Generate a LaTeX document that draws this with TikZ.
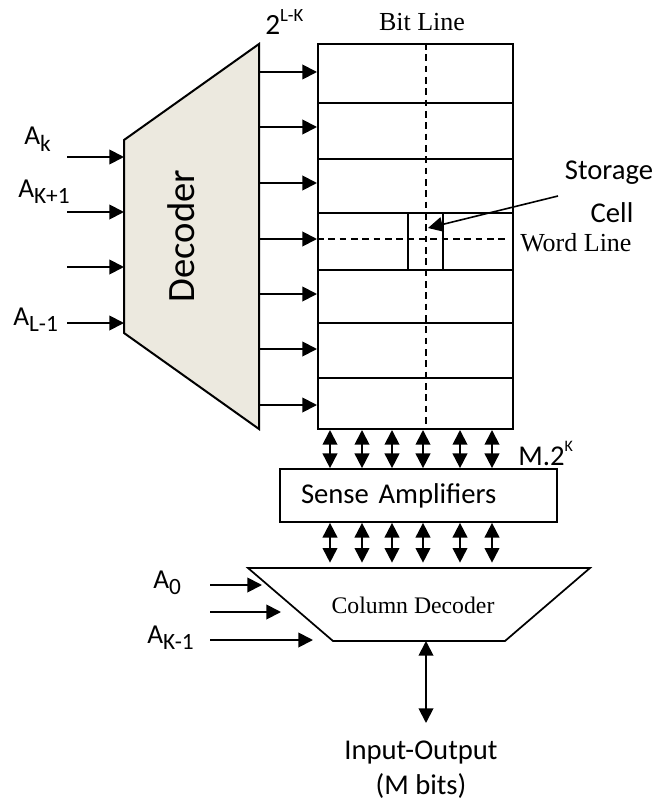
\documentclass[tikz,border=0pt]{standalone}
\usepackage{fontspec}
\setmainfont{Liberation Serif}
\newfontfamily\cfont{Carlito}
\usepackage{tikz}
\usetikzlibrary{arrows.meta, positioning, calc}
\definecolor{decfill}{RGB}{236,233,223}
\newcommand{\adr}[1]{A\raisebox{-5pt}{\fontsize{17.5}{17.5}\selectfont #1}}
\newcommand{\upidx}[3]{#1\raisebox{10pt}{\fontsize{#3}{#3}\selectfont #2}}
\tikzset{
    dec_shape/.style={draw, line width=1.5pt, fill=decfill, line join=miter},
    mem_block/.style={rectangle, draw, line width=1.5pt, inner sep=0pt, minimum width=146.25pt, minimum height=288.75pt},
    sense_block/.style={rectangle, draw, line width=1.3pt, inner xsep=15.75pt, inner ysep=0pt, text width=176.25pt, align=left, minimum height=39.75pt, font=\cfont\fontsize{21.5}{26}\selectfont},
    grid_line/.style={line width=1.2pt},
    dash_line/.style={line width=1.3pt, dash pattern=on 5pt off 3.5pt},
    arrow/.style={->, >={Triangle[length=11pt, width=11pt]}, line width=1.4pt},
    bi_arrow/.style={<->, >={Triangle[length=11pt, width=11pt]}, line width=1.4pt},
    lbl/.style={font=\cfont\fontsize{21.5}{26}\selectfont, inner sep=0pt},
    addr_lbl/.style={font=\cfont\fontsize{20.5}{24}\selectfont, inner sep=0pt, anchor=base west},
    serif_lbl/.style={font=\fontsize{19.5}{22}\selectfont, inner sep=0pt}
}
\begin{document}
\begin{tikzpicture}[x=0.75pt, y=-0.75pt]
    \useasboundingbox (0,0) rectangle (660,806);

    % row decoder
    \coordinate (dTL) at (124,140);
    \coordinate (dTR) at (259,44);
    \coordinate (dBR) at (259,429);
    \coordinate (dBL) at (124,333);
    \draw[dec_shape] (dTL) -- (dTR) -- (dBR) -- (dBL) -- cycle;
    \node[lbl, rotate=90, font=\cfont\fontsize{29}{32}\selectfont] (dec) at (181,236) {Decoder};

    % memory array
    \node[mem_block] (mem) at (415.5,236.5) {};
    \foreach \y in {103,159,213,270,323,378}
        \draw[grid_line] (mem.west |- 0,\y) -- (mem.east |- 0,\y);
    \node[draw, grid_line, inner sep=0pt, minimum width=26.25pt, minimum height=42.75pt] (cell) at (425.5,241.5) {};
    \draw[dash_line] (mem.north -| 426,0) -- (mem.south -| 426,0);
    \draw[dash_line] (mem.west |- 0,239) -- (508,239);

    \node[serif_lbl] (bitl) at (422,22) {Bit Line};
    \node[serif_lbl, anchor=west] (wordl) at (520,243) {Word Line};
    \node[lbl] (stor) at (609,173) {Storage};
    \node[lbl] (cellt) at (612,213) {Cell};
    \coordinate (ptr) at (558,196);
    \coordinate (cellpt) at (428,228);
    \draw[arrow, line width=1.2pt] (ptr) -- (cellpt);

    % word line drivers
    \foreach \y [count=\i] in {72,127,183,239,294,349,405} {
        \coordinate (wl\i) at (mem.west |- 0,\y);
        \draw[arrow] (dTR |- wl\i) -- (wl\i);
    }

    % row address
    \foreach \y [count=\i] in {157,212,267,323} {
        \coordinate (ain\i) at (67,\y);
        \draw[arrow] (ain\i) -- (dTL |- ain\i);
    }
    \node[addr_lbl] (ak) at (24,145) {\adr{k}};
    \node[addr_lbl] (ak1) at (18,197) {\adr{K+1}};
    \node[addr_lbl] (al1) at (13,325) {\adr{L-1}};
    \node[lbl, anchor=base west, font=\cfont\fontsize{22}{26}\selectfont] (nrows) at (265,35) {\upidx{2}{L-K}{14}};

    % sense amplifiers
    \node[sense_block] (sa) at (418.5,495.5) {Sense Amplifiers};
    \node[lbl, anchor=base west] (msize) at (518,465) {\upidx{M.2}{K}{12}};

    % column decoder
    \coordinate (cTL) at (248,568);
    \coordinate (cTR) at (590,568);
    \coordinate (cBR) at (505,641);
    \coordinate (cBL) at (333,641);
    \draw[line width=1.3pt] (cTL) -- (cTR) -- (cBR) -- (cBL) -- cycle;
    \node[serif_lbl, font=\fontsize{17.8}{20}\selectfont] (coldec) at (413,605) {Column Decoder};

    \foreach \x in {330,362,392,423,460,492} {
        \draw[bi_arrow] (mem.south -| \x,0) -- (sa.north -| \x,0);
        \draw[bi_arrow, shorten >=4pt] (sa.south -| \x,0) -- (cTL -| \x,0);
    }

    % column address
    \foreach \y/\e [count=\i] in {585/262, 612/281, 640/313} {
        \coordinate (cin\i) at (210,\y);
        \coordinate (cend\i) at (\e,\y);
        \draw[arrow] (cin\i) -- (cend\i);
    }
    \node[addr_lbl] (a0) at (153,588) {\adr{0}};
    \node[addr_lbl] (akm1) at (147,643) {\adr{K-1}};

    % data out
    \coordinate (cdout) at (426,641);
    \coordinate (ioend) at (426,723);
    \draw[bi_arrow] (cdout) -- (ioend);
    \node[lbl, align=center] (io) at (421,770) {Input-Output\\(M bits)};
\end{tikzpicture}
\end{document}
